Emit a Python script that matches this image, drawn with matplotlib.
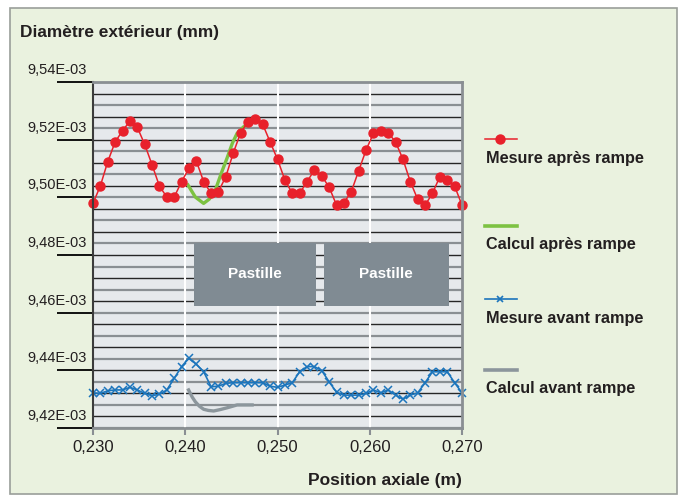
import numpy as np
import matplotlib
matplotlib.use("Agg")
import matplotlib.pyplot as plt
from matplotlib.patches import Rectangle
from matplotlib.lines import Line2D
from matplotlib.transforms import ScaledTranslation

plt.rcParams['font.family'] = ['Liberation Sans', 'DejaVu Sans']

E3 = 1e-3
TXT = '#231F20'

# positions axiales des mesures (m)
position = np.linspace(0.230, 0.270, 51)

mesure_apres = np.array([
    9.4979, 9.5040, 9.5124, 9.5192, 9.5231, 9.5264, 9.5243, 9.5184, 9.5113, 9.5039,
    9.5001, 9.5001, 9.5054, 9.5101, 9.5126, 9.5054, 9.5014, 9.5020, 9.5072, 9.5153,
    9.5224, 9.5262, 9.5272, 9.5253, 9.5192, 9.5132, 9.5060, 9.5014, 9.5014, 9.5054,
    9.5095, 9.5074, 9.5035, 9.4973, 9.4981, 9.5020, 9.5092, 9.5164, 9.5222, 9.5231,
    9.5224, 9.5192, 9.5132, 9.5054, 9.4993, 9.4973, 9.5014, 9.5072, 9.5060, 9.5039,
    9.4973]) * E3

mesure_avant = np.array([
    9.4322, 9.4320, 9.4329, 9.4332, 9.4332, 9.4341, 9.4332, 9.4320, 9.4312, 9.4317,
    9.4332, 9.4372, 9.4413, 9.4442, 9.4421, 9.4395, 9.4343, 9.4345, 9.4355, 9.4357,
    9.4357, 9.4357, 9.4357, 9.4357, 9.4345, 9.4341, 9.4349, 9.4357, 9.4395, 9.4413,
    9.4413, 9.4399, 9.4360, 9.4324, 9.4314, 9.4314, 9.4314, 9.4320, 9.4332, 9.4322,
    9.4332, 9.4314, 9.4300, 9.4314, 9.4322, 9.4357, 9.4395, 9.4395, 9.4395, 9.4357,
    9.4322]) * E3

calc_apres_x = [0.24029, 0.24109, 0.24199, 0.24261, 0.24326, 0.24391, 0.24453,
                0.24511, 0.24562, 0.24634, 0.24707]
calc_apres = np.array([9.5043, 9.5001, 9.4979, 9.4994, 9.5025, 9.5084, 9.5136,
                       9.5188, 9.5222, 9.5245, 9.5258]) * E3

calc_avant_x = [0.24036, 0.24076, 0.24109, 0.24152, 0.24199, 0.24250, 0.24308,
                0.24380, 0.24453, 0.24562, 0.24725]
calc_avant = np.array([9.4332, 9.4307, 9.4291, 9.4276, 9.4265, 9.4261, 9.4259,
                       9.4264, 9.4270, 9.4280, 9.4280]) * E3

x_ticks = [0.230, 0.240, 0.250, 0.260, 0.270]
y_ticks = np.array([9.42, 9.44, 9.46, 9.48, 9.50, 9.52, 9.54]) * E3

pastilles_x = [(0.2409, 0.2542), (0.2550, 0.2686)]
pastilles_y = (9.4623 * E3, 9.4842 * E3)

W, H = 683, 497
fig = plt.figure(figsize=(W / 100, H / 100), dpi=100)
fig.patch.set_facecolor('white')


def fx(px):
    return px / W


def fy(py):
    return 1 - py / H


# cadre vert
fig.add_artist(Rectangle((fx(10), fy(494)), fx(677) - fx(10), fy(8) - fy(494),
                         transform=fig.transFigure, facecolor='#EAF2DF',
                         edgecolor='#9A9E9A', lw=1.2, zorder=0))

ax = fig.add_axes([fx(93), fy(428), fx(462) - fx(93), fy(82) - fy(428)])
ax.set_facecolor('#E6E9EC')
ax.set_xlim(0.230, 0.270)
ax.set_ylim(y_ticks[0], y_ticks[-1])

# quadrillage horizontal, alternance noir / gris
grid_vals = np.linspace(y_ticks[0], y_ticks[-1], 31)
for k, v in enumerate(grid_vals[::-1]):
    if k % 2:
        ax.axhline(v, color='#262626', lw=1.0, zorder=1)
    else:
        ax.axhline(v, color='#8A8F93', lw=1.6, zorder=1)

for xv in x_ticks[1:-1]:
    ax.axvline(xv, color='white', lw=1.5, zorder=2)

for (x0, x1) in pastilles_x:
    ax.add_patch(Rectangle((x0, pastilles_y[0]), x1 - x0, pastilles_y[1] - pastilles_y[0],
                           facecolor='#808B93', edgecolor='none', zorder=3))
    ax.text((x0 + x1) / 2, sum(pastilles_y) / 2, 'Pastille', color='white',
            fontsize=11, fontweight='bold', ha='center', va='center', zorder=4)

ax.plot(calc_apres_x, calc_apres, color='#7DC242', lw=2.4, zorder=5)
ax.plot(calc_avant_x, calc_avant, color='#8C969C', lw=2.4, zorder=5)
ax.plot(position, mesure_apres, color='#E8212B', lw=1.1, marker='o', ms=6.5,
        zorder=6, clip_on=False)
ax.plot(position, mesure_avant, color='#1C75BC', lw=1.2, marker='x', ms=6,
        mew=1.1, zorder=6, clip_on=False)

# axes et graduations
ax.set_yticks(y_ticks)
ax.set_yticklabels([f"{v:.2E}".replace('.', ',') for v in y_ticks])
ax.tick_params(axis='y', length=26, width=1.3, pad=-21.6, labelsize=10.5,
               labelcolor=TXT)
y_tick_colors = ['#8A8F93', '#262626', '#262626', '#8A8F93', '#8A8F93', '#262626', '#8A8F93']
for tick, c in zip(ax.yaxis.get_major_ticks(), y_tick_colors):
    tick.tick1line.set_color(c)
shift = ScaledTranslation(0, 0.135, fig.dpi_scale_trans)
for lab in ax.get_yticklabels():
    lab.set_transform(lab.get_transform() + shift)

ax.set_xticks(x_ticks)
ax.set_xticklabels([f"{v:.3f}".replace('.', ',') for v in x_ticks])
ax.tick_params(axis='x', length=5, width=1.5, color='#8A8F93', pad=4,
               labelsize=12, labelcolor=TXT)

for side in ['top', 'right', 'bottom']:
    ax.spines[side].set_color('#8A8F93')
    ax.spines[side].set_linewidth(2)
ax.spines['left'].set_color('#3C3C3C')
ax.spines['left'].set_linewidth(1.5)
for s in ax.spines.values():
    s.set_zorder(7)

ax.set_xlabel('Position axiale (m)', loc='right', fontsize=12.5,
              fontweight='bold', color=TXT)
ax.xaxis.set_label_coords(1.0, -0.13)

fig.text(fx(20), fy(33), 'Diamètre extérieur (mm)', fontsize=12.4,
         fontweight='bold', color=TXT, ha='left', va='center')

# légende
legend_items = [
    ('Mesure après rampe', dict(color='#E8212B', lw=1.1, marker='o', ms=6.5, markevery=[1]), 139),
    ('Calcul après rampe', dict(color='#7DC242', lw=2.6), 226),
    ('Mesure avant rampe', dict(color='#1C75BC', lw=1.2, marker='x', ms=5, mew=1.2, markevery=[1]), 299),
    ('Calcul avant rampe', dict(color='#8C969C', lw=2.6), 370),
]
for label, style, ly in legend_items:
    fig.add_artist(Line2D([fx(485), fx(500), fx(517)], [fy(ly)] * 3,
                          transform=fig.transFigure, **style))
    fig.text(fx(486), fy(ly + 19), label, fontsize=11.7, fontweight='bold',
             color=TXT, ha='left', va='center')

fig.savefig('out.png', dpi=100, facecolor=fig.get_facecolor())
